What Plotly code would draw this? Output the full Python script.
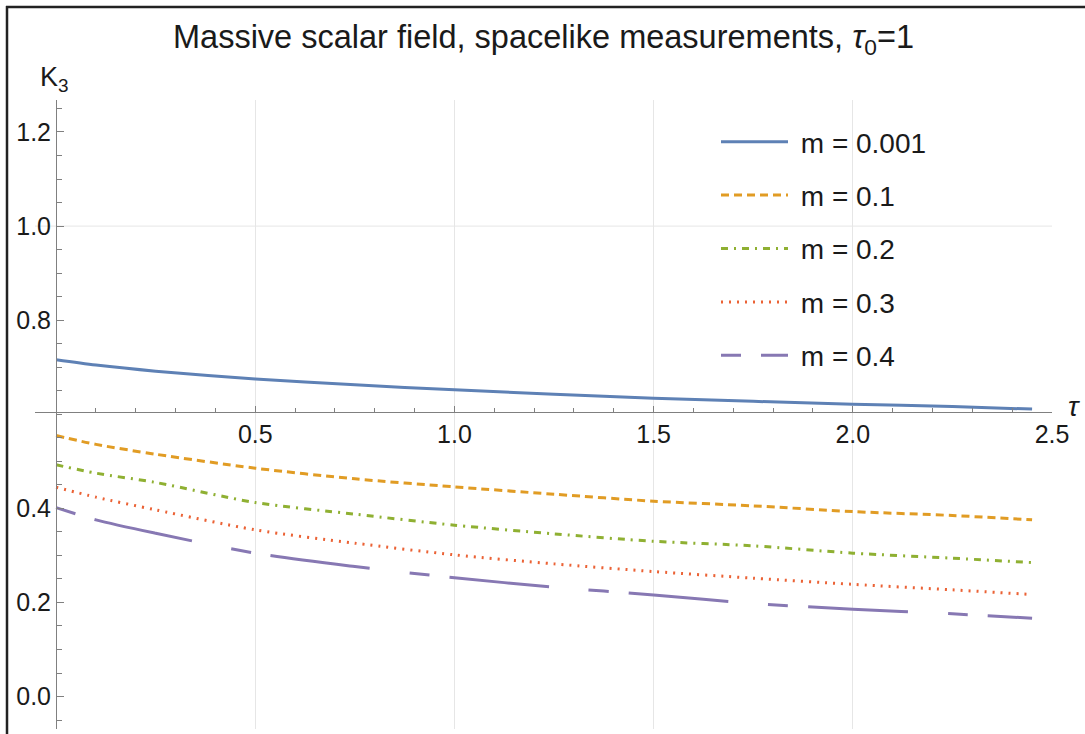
import plotly.graph_objects as go

# ---- data ----
tau_blue = [0.0, 0.1, 0.25, 0.5, 0.75, 1.0, 1.25, 1.5, 1.75, 2.0, 2.25, 2.45]
k_m0001 = [0.7157, 0.7045, 0.6915, 0.675, 0.6625, 0.652, 0.6427, 0.6342, 0.6275, 0.6215, 0.6164, 0.611]

tau = [0.0, 0.1, 0.25, 0.5, 0.75, 1.0, 1.25, 1.5, 1.75, 2.0, 2.25, 2.45]
k_m01 = [0.5547, 0.536, 0.515, 0.4854, 0.4627, 0.4457, 0.430, 0.4153, 0.4053, 0.3932, 0.3848, 0.3756]
k_m02 = [0.4925, 0.4748, 0.455, 0.4124, 0.3876, 0.3643, 0.3458, 0.330, 0.3203, 0.3048, 0.294, 0.2848]
k_m03 = [0.445, 0.4238, 0.3968, 0.3543, 0.326, 0.3012, 0.282, 0.2657, 0.2516, 0.2385, 0.2268, 0.2168]
k_m04 = [0.4017, 0.3756, 0.347, 0.3047, 0.2763, 0.2525, 0.2325, 0.216, 0.1977, 0.1858, 0.1758, 0.1666]

labels = ["m = 0.001", "m = 0.1", "m = 0.2", "m = 0.3", "m = 0.4"]
colors = ["#5E81B5", "#E19C24", "#8FB032", "#EB6235", "#8778B3"]
dashes = ["solid", "8px,5px", "7px,6px,2px,6px", "2px,6px", "20px,20px,100px,40px"]

x_ticks = [0.5, 1.0, 1.5, 2.0, 2.5]
y_ticks = [0.0, 0.2, 0.4, 0.8, 1.0, 1.2]

FONT = "Liberation Sans, Arial, sans-serif"
TXT = "#1a1a1a"

fig = go.Figure()
series = [(tau_blue, k_m0001), (tau, k_m01), (tau, k_m02), (tau, k_m03), (tau, k_m04)]
for i, ((xs, ys), lab, col, dsh) in enumerate(zip(series, labels, colors, dashes)):
    fig.add_trace(go.Scatter(
        x=xs, y=ys, mode="lines", name="\u00a0" + lab, legendgroup=f"g{i}",
        line=dict(color=col, width=3, dash=dsh, shape="spline", smoothing=0.8),
    ))

W, H = 1085, 734
ml, mr, mt, mb = 35, 33, 100, 5
xr = [-0.053, 2.5]
yr = [-0.069, 1.268]
pw, ph = W - ml - mr, H - mt - mb


def xp(px):  # pixel -> paper x
    return (px - ml) / pw


def yp(py):  # pixel -> paper y
    return (H - mb - py) / ph


fig.update_layout(
    width=W, height=H,
    margin=dict(l=ml, r=mr, t=mt, b=mb, pad=0),
    paper_bgcolor="white", plot_bgcolor="white",
    font=dict(family=FONT, color=TXT),
    title=dict(
        text="Massive scalar field, spacelike measurements, <i>τ</i><sub>0</sub>=1",
        x=0.5, xref="paper", xanchor="center",
        y=1 - 37 / H, yref="container", yanchor="middle",
        font=dict(size=32.5, family=FONT, color=TXT),
    ),
    xaxis=dict(
        range=xr, anchor="free", position=(0.6045 - yr[0]) / (yr[1] - yr[0]),
        showline=True, linecolor="#808080", linewidth=1.2,
        tickmode="array", tickvals=x_ticks, ticktext=["0.5", "1.0", "1.5", "2.0", "2.5"],
        ticks="inside", ticklen=6, tickcolor="#808080", tickwidth=1,
        tickfont=dict(size=25, family=FONT, color=TXT),
        showgrid=True, gridcolor="#e6e6e6", gridwidth=1,
        zeroline=False,
        minor=dict(tickmode="linear", tick0=0, dtick=0.1, ticks="inside", ticklen=4,
                   tickcolor="#808080", showgrid=False),
    ),
    yaxis=dict(
        range=yr, anchor="free", position=(0 - xr[0]) / (xr[1] - xr[0]),
        showline=True, linecolor="#808080", linewidth=1.2,
        tickmode="array", tickvals=y_ticks, ticktext=["0.0", "0.2", "0.4", "0.8", "1.0", "1.2"],
        ticks="inside", ticklen=7, tickcolor="#808080", tickwidth=1,
        tickfont=dict(size=25, family=FONT, color=TXT),
        showgrid=False, zeroline=False,
        minor=dict(tickmode="linear", tick0=0, dtick=0.05, ticks="inside", ticklen=5,
                   tickcolor="#808080", showgrid=False),
    ),
    legend=dict(
        x=xp(716), xanchor="left",
        y=yp(117), yanchor="top",
        bgcolor="rgba(0,0,0,0)", borderwidth=0,
        font=dict(size=28, family=FONT, color=TXT),
        itemwidth=67, tracegroupgap=14,
    ),
    showlegend=True,
)

# horizontal grid line at K3 = 1.0
gy = (1.0 - yr[0]) / (yr[1] - yr[0])
fig.add_shape(type="line", xref="paper", yref="paper", x0=0, x1=1, y0=gy, y1=gy,
              line=dict(color="#e6e6e6", width=1), layer="below")

# frame lines along the top and left edges of the image
fig.add_shape(type="line", xref="paper", yref="paper",
              x0=xp(6), x1=xp(W), y0=yp(7), y1=yp(7),
              line=dict(color="#222222", width=2.5))
fig.add_shape(type="line", xref="paper", yref="paper",
              x0=xp(7), x1=xp(7), y0=yp(6), y1=yp(H),
              line=dict(color="#222222", width=2.5))

# axis labels
fig.add_annotation(text="K<sub>3</sub>", xref="paper", yref="paper",
                   x=xp(38), y=yp(79), xanchor="left", yanchor="middle",
                   showarrow=False, font=dict(size=27, family=FONT, color=TXT))
fig.add_annotation(text="<i>τ</i>", xref="paper", yref="paper",
                   x=xp(1066), y=yp(406), xanchor="left", yanchor="middle",
                   showarrow=False, font=dict(size=28, family=FONT, color=TXT))

fig.write_html(
    "out.html", config={"displayModeBar": False},
    post_script="document.body.style.margin='0px';document.body.style.padding='0px';"
                "document.documentElement.style.overflow='hidden';window.scrollTo(0,0);",
)
